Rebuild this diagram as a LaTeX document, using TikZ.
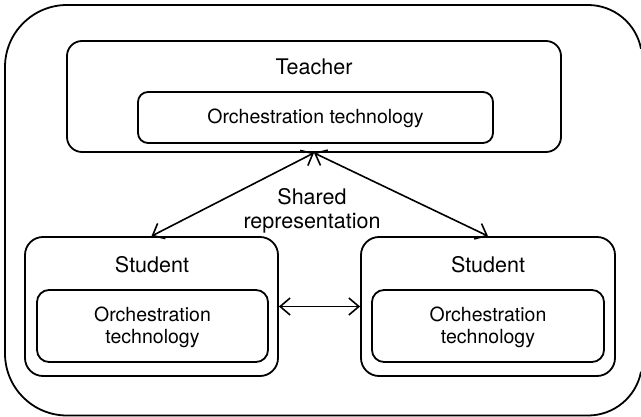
\documentclass[tikz,border=0pt]{standalone}
\usepackage{fontspec}
\setmainfont{TeX Gyre Heros}
\usetikzlibrary{arrows.meta}
\begin{document}
\begin{tikzpicture}[x=1pt,y=-1pt,line width=1.8pt,
  box/.style={draw,rounded corners=#1,inner sep=0pt},
  ttl/.style={font=\fontsize{21.5}{24}\selectfont,inner sep=0pt,align=center},
  txt/.style={font=\fontsize{19.5}{21.5}\selectfont,inner sep=0pt,align=center},
  arr/.style={{Straight Barb[length=10pt,width=17pt]}-{Straight Barb[length=10pt,width=17pt]},line width=1.6pt}]
\useasboundingbox (0,0) rectangle (641,417);
% outer frame (its right side lies beyond the picture's edge)
\draw[rounded corners=62pt] (588,5) -- (5,5) -- (5,415.5) -- (588,415.5);
\draw (588,5) arc[start angle=-90,end angle=-11,radius=54];
\draw (588,415.5) arc[start angle=90,end angle=11,radius=54];
% teacher
\node[box=15pt,minimum width=494pt,minimum height=111pt] (t) at (314,96.5) {};
\node[box=10pt,minimum width=355pt,minimum height=51pt] (ti) at (315.5,117.5) {};
\node[ttl,anchor=base] (tl) at (314,75) {Teacher};
\node[txt,anchor=base] (til) at (315.5,124) {Orchestration technology};
% left student
\node[box=18pt,minimum width=253pt,minimum height=139pt] (sl) at (151.5,306.5) {};
\node[box=12pt,minimum width=231pt,minimum height=72pt] (sli) at (152.5,326) {};
\node[ttl,anchor=base] (sll) at (152,273) {Student};
\node[txt] (slil) at (152.5,327.5) {Orchestration\\technology};
% right student
\node[box=18pt,minimum width=254pt,minimum height=139pt] (sr) at (488,306.5) {};
\node[box=12pt,minimum width=232pt,minimum height=72pt] (sri) at (488,326) {};
\node[ttl,anchor=base] (srl) at (488,273) {Student};
\node[txt] (sril) at (488,327.5) {Orchestration\\technology};
% shared representation
\node[ttl] (sh) at (312,211) {Shared\\representation};
% arrows
\draw[arr] (sl.north) -- (t.south);
\draw[arr] (sr.north) -- (t.south);
\draw[arr] (sl.east) -- (sr.west);
\end{tikzpicture}
\end{document}
